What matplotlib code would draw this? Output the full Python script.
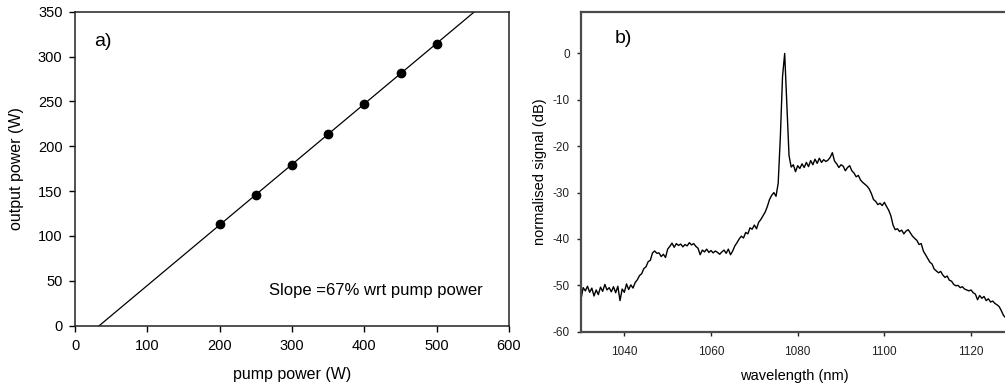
import numpy as np
import matplotlib
matplotlib.use("Agg")
import matplotlib.pyplot as plt

plt.rcParams['font.family'] = ['Liberation Sans', 'DejaVu Sans']
plt.rcParams['axes.unicode_minus'] = False

# ---- panel a) data ----
pump_power = [200, 250, 300, 350, 400, 450, 500]
output_power = [113, 145, 179, 214, 247, 282, 314]
fit_range = [30, 560]

# ---- panel b) data ----
wl_start, wl_step = 1030.0, 0.5
signal_db = [
    -53.0, -50.5, -51.2, -50.2, -51.5, -50.6, -52.3, -51.0, -52.0, -50.4,   # 1030-1034.5
    -51.3, -49.8, -51.0, -50.5, -51.4, -50.3, -51.6, -50.2, -53.3, -50.8,   # 1035-1039.5
    -51.5, -49.7, -50.9, -49.9, -50.6, -49.4, -48.8, -47.9, -47.5, -46.4,   # 1040-1044.5
    -46.0, -44.9, -44.6, -43.0, -42.6, -43.1, -43.0, -43.8, -43.3, -44.0,   # 1045-1049.5
    -42.2, -41.6, -40.9, -41.8, -41.0, -41.4, -41.1, -41.7, -41.2, -41.5,   # 1050-1054.5
    -40.8, -41.3, -41.0, -41.6, -42.0, -43.4, -42.4, -42.8, -42.2, -42.9,   # 1055-1059.5
    -42.5, -43.0, -42.6, -42.9, -43.3, -42.8, -42.4, -43.1, -42.2, -43.4,   # 1060-1064.5
    -42.6, -41.5, -40.8, -40.0, -39.4, -39.8, -38.6, -38.9, -37.6, -37.9,   # 1065-1069.5
    -37.0, -37.8, -36.4, -35.8, -35.0, -34.2, -33.0, -31.5, -30.6, -30.0,   # 1070-1074.5
    -30.8, -28.0, -18.0, -5.0, 0.0, -11.0, -22.0, -24.5, -24.0, -25.5,      # 1075-1079.5
    -24.2, -24.8, -23.8, -24.6, -23.5, -24.4, -23.1, -24.0, -22.8, -23.7,   # 1080-1084.5
    -22.6, -23.5, -22.9, -23.3, -23.0, -22.4, -21.4, -23.2, -23.8, -24.6,   # 1085-1089.5
    -24.0, -24.3, -25.3, -24.6, -24.2, -25.3, -25.8, -26.6, -26.3, -27.3,   # 1090-1094.5
    -27.8, -28.2, -28.6, -29.2, -30.2, -31.5, -31.9, -32.6, -32.3, -32.8,   # 1095-1099.5
    -32.1, -33.0, -33.8, -35.0, -37.0, -38.0, -37.8, -38.4, -38.1, -38.9,   # 1100-1104.5
    -38.3, -38.0, -38.7, -39.4, -39.9, -40.3, -41.2, -41.0, -42.6, -43.4,   # 1105-1109.5
    -44.2, -45.0, -45.4, -46.5, -46.9, -47.3, -47.0, -47.8, -48.3, -48.0,   # 1110-1114.5
    -48.9, -49.1, -49.8, -50.1, -50.0, -50.5, -50.3, -50.8, -51.0, -51.2,   # 1115-1119.5
    -51.0, -51.6, -51.9, -53.1, -52.2, -52.8, -52.4, -53.3, -52.9, -53.6,   # 1120-1124.5
    -53.4, -53.9, -54.2, -54.6, -55.5, -56.5, -57.0,                        # 1125-1128
]
wavelength = wl_start + wl_step * np.arange(len(signal_db))

fig = plt.figure(figsize=(10.05, 3.85), dpi=100)

# ---------------- panel a ----------------
axa = fig.add_axes([75 / 1005, (385 - 325.5) / 385, 434 / 1005, 313.8 / 385])
slope, intercept = np.polyfit(pump_power, output_power, 1)
xf = np.array(fit_range, dtype=float)
axa.plot(xf, slope * xf + intercept, color='black', lw=0.9)
axa.plot(pump_power, output_power, 'o', color='black', ms=6)
axa.set_xlim(0, 600)
axa.set_ylim(0, 350)
axa.set_xticks(range(0, 601, 100))
axa.set_yticks(range(0, 351, 50))
axa.tick_params(direction='out', length=4, width=1, labelsize=10.5, colors='black')
axa.tick_params(axis='x', pad=6)
axa.tick_params(axis='y', pad=5)
for s in axa.spines.values():
    s.set_linewidth(1.1)
    s.set_color('#222222')
axa.set_xlabel('pump power (W)', fontsize=11.5, labelpad=10)
axa.set_ylabel('output power (W)', fontsize=11.5, labelpad=10)
axa.text(26, 317, 'a)', fontsize=14, ha='left', va='center')
axa.text(564, 34, 'Slope =67% wrt pump power', fontsize=12, ha='right', va='baseline')

# ---------------- panel b ----------------
axb = fig.add_axes([581 / 1005, (385 - 331.7) / 385, 426 / 1005, 320 / 385])
axb.plot(wavelength, signal_db, color='black', lw=1.0)
axb.set_xlim(1030, 1128.3)
axb.set_ylim(-60, 9)
axb.set_xticks(range(1040, 1121, 20))
axb.set_yticks(range(-60, 1, 10))
axb.tick_params(direction='out', length=3, width=1, labelsize=8.5, colors='#222222')
axb.tick_params(axis='x', pad=7)
axb.tick_params(axis='y', pad=5)
for s in axb.spines.values():
    s.set_linewidth(1.6)
    s.set_color('#4a4a4a')
axb.set_xlabel('wavelength (nm)', fontsize=10.5, labelpad=8)
axb.set_ylabel('normalised signal (dB)', fontsize=10.5, labelpad=4)
axb.text(1037.8, 3.3, 'b)', fontsize=14, ha='left', va='center')

fig.savefig('out.png', dpi=100)
